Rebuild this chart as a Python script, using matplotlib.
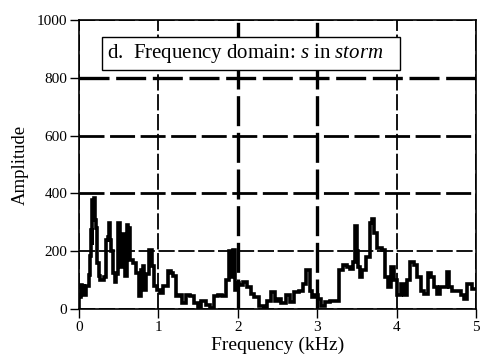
import matplotlib
matplotlib.use("Agg")
import matplotlib.pyplot as plt

# spectrum (kHz, amplitude)
freq = [0.00, 0.01, 0.03, 0.05, 0.075, 0.10, 0.12, 0.13, 0.145, 0.16, 0.165, 0.175,
        0.196, 0.21, 0.22, 0.235, 0.26, 0.28, 0.30, 0.32, 0.35, 0.37, 0.38, 0.39,
        0.41, 0.44, 0.46, 0.48, 0.51, 0.53, 0.54, 0.565, 0.59, 0.61, 0.625, 0.66,
        0.70, 0.73, 0.77, 0.79, 0.81, 0.83, 0.86, 0.90, 0.93, 0.96, 1.00, 1.03,
        1.09, 1.14, 1.17, 1.20, 1.24, 1.28, 1.32, 1.37, 1.42, 1.48, 1.51, 1.575,
        1.616, 1.68, 1.72, 1.78, 1.825, 1.866, 1.908, 1.93, 1.95, 1.97, 2.00, 2.03,
        2.10, 2.14, 2.18, 2.24, 2.30, 2.35, 2.39, 2.45, 2.49, 2.53, 2.57, 2.64,
        2.68, 2.74, 2.80, 2.84, 2.89, 2.92, 2.95, 2.99, 3.03, 3.07, 3.13, 3.20,
        3.26, 3.30, 3.35, 3.39, 3.43, 3.47, 3.49, 3.51, 3.53, 3.55, 3.59, 3.64,
        3.68, 3.70, 3.72, 3.78, 3.84, 3.87, 3.91, 3.95, 3.99, 4.03, 4.07, 4.11,
        4.15, 4.20, 4.24, 4.28, 4.33, 4.37, 4.41, 4.45, 4.49, 4.53, 4.57, 4.61,
        4.65, 4.68, 4.72, 4.78, 4.83, 4.87, 4.91, 4.98, 5.00]
amp = [0, 40, 84, 80, 50, 78, 80, 118, 182, 273, 220, 377,
       383, 308, 280, 159, 113, 100, 101, 110, 239, 250, 297, 240,
       200, 124, 95, 120, 297, 250, 147, 260, 113, 291, 280, 170,
       159, 124, 44, 136, 150, 67, 120, 205, 150, 78, 67, 55,
       78, 130, 125, 113, 44, 50, 21, 50, 45, 21, 3, 26,
       15, 3, 44, 50, 45, 100, 200, 110, 205, 67, 90, 82,
       94, 76, 53, 41, 12, 6, 29, 58, 29, 35, 21, 47,
       23, 58, 64, 88, 134, 64, 41, 47, 35, 12, 23, 29,
       29, 134, 152, 146, 140, 164, 287, 199, 146, 111, 134, 181,
       298, 310, 263, 210, 205, 111, 76, 146, 99, 47, 88, 47,
       99, 164, 152, 111, 64, 53, 123, 111, 76, 53, 76, 76,
       129, 76, 64, 64, 47, 35, 88, 70, 68]

xticks = [0, 1, 2, 3, 4, 5]
yticks = [0, 200, 400, 600, 800, 1000]

plt.rcParams['font.family'] = ['Liberation Serif', 'DejaVu Serif']
plt.rcParams['mathtext.fontset'] = 'custom'
plt.rcParams['mathtext.rm'] = 'Liberation Serif'
plt.rcParams['mathtext.it'] = 'Liberation Serif:italic'

fig = plt.figure(figsize=(4.82, 3.6), dpi=100)
ax = fig.add_axes([79/482, 1 - 309/360, (476 - 79)/482, (309 - 20)/360])

ax.plot(freq, amp, color='black', lw=2.6, drawstyle='steps-mid', solid_joinstyle='miter')

ax.set_xlim(0, 5)
ax.set_ylim(0, 1000)
ax.set_xticks(xticks)
ax.set_yticks(yticks)
ax.tick_params(direction='out', length=6.5, width=1, labelsize=11, pad=2)
for s in ax.spines.values():
    s.set_linewidth(1.2)

ax.grid(True, color='black', ls=(0, (9, 2)), lw=1.7)
# the scanned grid has uneven line weights
for gl, w in zip(ax.get_xgridlines(), [1.3, 1.3, 2.4, 2.4, 1.3, 1.3]):
    gl.set_linewidth(w)
for gl, w in zip(ax.get_ygridlines(), [1.3, 1.3, 2.0, 2.0, 2.4, 1.3]):
    gl.set_linewidth(w)

ax.set_xlabel('Frequency (kHz)', fontsize=14, labelpad=2)
ax.set_ylabel('Amplitude', fontsize=13.5, labelpad=6)

ax.text(0.07, 0.885, r'd.  Frequency domain: $\mathit{s}$ in $\mathit{storm}$   ',
        transform=ax.transAxes, fontsize=15, va='center', ha='left',
        bbox=dict(boxstyle='square,pad=0.25', facecolor='white', edgecolor='black', lw=1))

fig.savefig('out.png', dpi=100)
